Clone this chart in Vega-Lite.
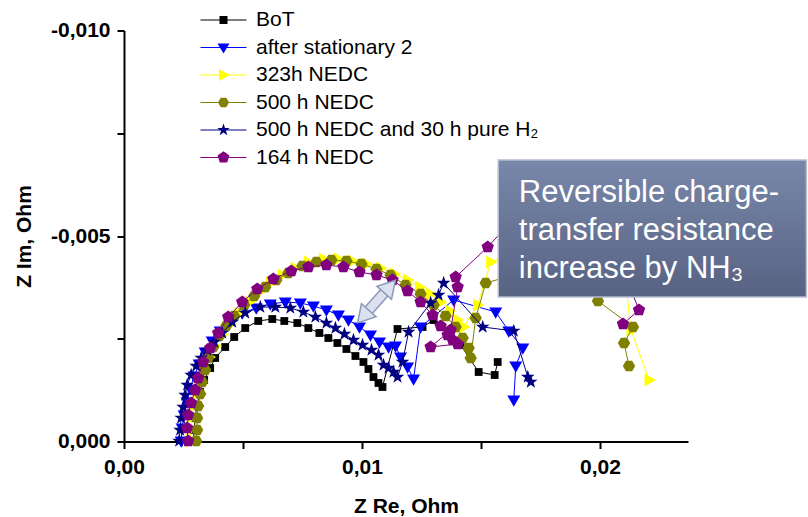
{
  "$schema": "https://vega.github.io/schema/vega-lite/v6.json",
  "width": 564,
  "height": 411,
  "autosize": {"type": "none"},
  "padding": {"left": 124, "top": 30.5, "right": 120, "bottom": 75.5},
  "background": "white",
  "config": {"view": {"stroke": null}, "font": "Liberation Sans", "legend": {"symbolOpacity": 1}},
  "datasets": {
    "eis": [
      {"s":"BoT","i":1,"x":0.002905,"y":-0.000012},{"s":"BoT","i":2,"x":0.002947,"y":-0.00028},{"s":"BoT","i":3,"x":0.002989,"y":-0.000572},{"s":"BoT","i":4,"x":0.003073,"y":-0.000888},{"s":"BoT","i":5,"x":0.0032,"y":-0.001204},{"s":"BoT","i":6,"x":0.003368,"y":-0.001496},{"s":"BoT","i":7,"x":0.003621,"y":-0.001788},{"s":"BoT","i":8,"x":0.003831,"y":-0.002032},{"s":"BoT","i":9,"x":0.004252,"y":-0.002299},{"s":"BoT","i":10,"x":0.004631,"y":-0.002543},{"s":"BoT","i":11,"x":0.005094,"y":-0.002761},{"s":"BoT","i":12,"x":0.005641,"y":-0.002932},{"s":"BoT","i":13,"x":0.006231,"y":-0.00298},{"s":"BoT","i":14,"x":0.006736,"y":-0.002932},{"s":"BoT","i":15,"x":0.007283,"y":-0.002883},{"s":"BoT","i":16,"x":0.007746,"y":-0.002761},{"s":"BoT","i":17,"x":0.00821,"y":-0.00264},{"s":"BoT","i":18,"x":0.008588,"y":-0.002518},{"s":"BoT","i":19,"x":0.008967,"y":-0.002397},{"s":"BoT","i":20,"x":0.009346,"y":-0.002251},{"s":"BoT","i":21,"x":0.009725,"y":-0.00208},{"s":"BoT","i":22,"x":0.010062,"y":-0.001934},{"s":"BoT","i":23,"x":0.010272,"y":-0.001764},{"s":"BoT","i":24,"x":0.010483,"y":-0.001569},{"s":"BoT","i":25,"x":0.010693,"y":-0.001423},{"s":"BoT","i":26,"x":0.010862,"y":-0.001326},{"s":"BoT","i":27,"x":0.011493,"y":-0.002737},{"s":"BoT","i":28,"x":0.012546,"y":-0.002786},{"s":"BoT","i":29,"x":0.013009,"y":-0.002956},{"s":"BoT","i":30,"x":0.014146,"y":-0.002348},{"s":"BoT","i":31,"x":0.014903,"y":-0.001691},{"s":"BoT","i":32,"x":0.015577,"y":-0.001618},{"s":"BoT","i":33,"x":0.015703,"y":-0.001934},

      {"s":"after stationary 2","i":1,"x":0.0024,"y":-0.000012},{"s":"after stationary 2","i":2,"x":0.002442,"y":-0.000328},{"s":"after stationary 2","i":3,"x":0.002526,"y":-0.000645},{"s":"after stationary 2","i":4,"x":0.002653,"y":-0.000961},{"s":"after stationary 2","i":5,"x":0.002779,"y":-0.001277},{"s":"after stationary 2","i":6,"x":0.002947,"y":-0.001594},{"s":"after stationary 2","i":7,"x":0.003158,"y":-0.001886},{"s":"after stationary 2","i":8,"x":0.00341,"y":-0.002178},{"s":"after stationary 2","i":9,"x":0.003705,"y":-0.002445},{"s":"after stationary 2","i":10,"x":0.004042,"y":-0.002689},{"s":"after stationary 2","i":11,"x":0.004463,"y":-0.002932},{"s":"after stationary 2","i":12,"x":0.004968,"y":-0.003127},{"s":"after stationary 2","i":13,"x":0.005558,"y":-0.003248},{"s":"after stationary 2","i":14,"x":0.006147,"y":-0.003345},{"s":"after stationary 2","i":15,"x":0.006779,"y":-0.003394},{"s":"after stationary 2","i":16,"x":0.00741,"y":-0.00337},{"s":"after stationary 2","i":17,"x":0.007958,"y":-0.003297},{"s":"after stationary 2","i":18,"x":0.008505,"y":-0.0032},{"s":"after stationary 2","i":19,"x":0.00901,"y":-0.003078},{"s":"after stationary 2","i":20,"x":0.009432,"y":-0.002956},{"s":"after stationary 2","i":21,"x":0.009895,"y":-0.002786},{"s":"after stationary 2","i":22,"x":0.010358,"y":-0.002591},{"s":"after stationary 2","i":23,"x":0.010737,"y":-0.002421},{"s":"after stationary 2","i":24,"x":0.011116,"y":-0.002299},{"s":"after stationary 2","i":25,"x":0.01141,"y":-0.002324},{"s":"after stationary 2","i":26,"x":0.011621,"y":-0.002056},{"s":"after stationary 2","i":27,"x":0.011916,"y":-0.001813},{"s":"after stationary 2","i":28,"x":0.012168,"y":-0.001521},{"s":"after stationary 2","i":29,"x":0.012463,"y":-0.002786},{"s":"after stationary 2","i":30,"x":0.013853,"y":-0.003443},{"s":"after stationary 2","i":31,"x":0.01562,"y":-0.003151},{"s":"after stationary 2","i":32,"x":0.016168,"y":-0.002689},{"s":"after stationary 2","i":33,"x":0.016758,"y":-0.002275},{"s":"after stationary 2","i":34,"x":0.016463,"y":-0.001837},{"s":"after stationary 2","i":35,"x":0.016379,"y":-0.00101},

      {"s":"323h NEDC","i":1,"x":0.002779,"y":-0.000012},{"s":"323h NEDC","i":2,"x":0.002821,"y":-0.000304},{"s":"323h NEDC","i":3,"x":0.002863,"y":-0.000596},{"s":"323h NEDC","i":4,"x":0.002947,"y":-0.000888},{"s":"323h NEDC","i":5,"x":0.003073,"y":-0.00118},{"s":"323h NEDC","i":6,"x":0.0032,"y":-0.001472},{"s":"323h NEDC","i":7,"x":0.003368,"y":-0.001764},{"s":"323h NEDC","i":8,"x":0.003579,"y":-0.002056},{"s":"323h NEDC","i":9,"x":0.003831,"y":-0.002324},{"s":"323h NEDC","i":10,"x":0.004126,"y":-0.002591},{"s":"323h NEDC","i":11,"x":0.004463,"y":-0.002859},{"s":"323h NEDC","i":12,"x":0.004842,"y":-0.003127},{"s":"323h NEDC","i":13,"x":0.005263,"y":-0.003394},{"s":"323h NEDC","i":14,"x":0.005684,"y":-0.003637},{"s":"323h NEDC","i":15,"x":0.006147,"y":-0.003856},{"s":"323h NEDC","i":16,"x":0.006652,"y":-0.004051},{"s":"323h NEDC","i":17,"x":0.0072,"y":-0.004221},{"s":"323h NEDC","i":18,"x":0.007747,"y":-0.004367},{"s":"323h NEDC","i":19,"x":0.008379,"y":-0.00444},{"s":"323h NEDC","i":20,"x":0.00901,"y":-0.00444},{"s":"323h NEDC","i":21,"x":0.0096,"y":-0.004392},{"s":"323h NEDC","i":22,"x":0.010189,"y":-0.004319},{"s":"323h NEDC","i":23,"x":0.010779,"y":-0.004221},{"s":"323h NEDC","i":24,"x":0.011368,"y":-0.004075},{"s":"323h NEDC","i":25,"x":0.011916,"y":-0.003929},{"s":"323h NEDC","i":26,"x":0.012421,"y":-0.003759},{"s":"323h NEDC","i":27,"x":0.012884,"y":-0.003589},{"s":"323h NEDC","i":28,"x":0.013305,"y":-0.003394},{"s":"323h NEDC","i":29,"x":0.013684,"y":-0.003175},{"s":"323h NEDC","i":30,"x":0.014021,"y":-0.002956},{"s":"323h NEDC","i":31,"x":0.014274,"y":-0.002786},{"s":"323h NEDC","i":32,"x":0.014863,"y":-0.003321},{"s":"323h NEDC","i":33,"x":0.01541,"y":-0.004367},{"s":"323h NEDC","i":34,"x":0.018358,"y":-0.005024},{"s":"323h NEDC","i":35,"x":0.021095,"y":-0.003808},{"s":"323h NEDC","i":36,"x":0.021305,"y":-0.002713},{"s":"323h NEDC","i":37,"x":0.022063,"y":-0.001496},

      {"s":"500 h NEDC","i":1,"x":0.003032,"y":-0.000012},{"s":"500 h NEDC","i":2,"x":0.003073,"y":-0.00028},{"s":"500 h NEDC","i":3,"x":0.003073,"y":-0.000572},{"s":"500 h NEDC","i":4,"x":0.003116,"y":-0.000864},{"s":"500 h NEDC","i":5,"x":0.0032,"y":-0.001156},{"s":"500 h NEDC","i":6,"x":0.003284,"y":-0.001448},{"s":"500 h NEDC","i":7,"x":0.00341,"y":-0.00174},{"s":"500 h NEDC","i":8,"x":0.003537,"y":-0.002032},{"s":"500 h NEDC","i":9,"x":0.003747,"y":-0.002299},{"s":"500 h NEDC","i":10,"x":0.004,"y":-0.002567},{"s":"500 h NEDC","i":11,"x":0.004295,"y":-0.00281},{"s":"500 h NEDC","i":12,"x":0.004631,"y":-0.003054},{"s":"500 h NEDC","i":13,"x":0.005052,"y":-0.003321},{"s":"500 h NEDC","i":14,"x":0.005473,"y":-0.00354},{"s":"500 h NEDC","i":15,"x":0.005937,"y":-0.003759},{"s":"500 h NEDC","i":16,"x":0.0064,"y":-0.003929},{"s":"500 h NEDC","i":17,"x":0.006905,"y":-0.0041},{"s":"500 h NEDC","i":18,"x":0.007495,"y":-0.00427},{"s":"500 h NEDC","i":19,"x":0.008084,"y":-0.004367},{"s":"500 h NEDC","i":20,"x":0.008716,"y":-0.004416},{"s":"500 h NEDC","i":21,"x":0.009347,"y":-0.004392},{"s":"500 h NEDC","i":22,"x":0.009979,"y":-0.004319},{"s":"500 h NEDC","i":23,"x":0.01061,"y":-0.004197},{"s":"500 h NEDC","i":24,"x":0.0112,"y":-0.004051},{"s":"500 h NEDC","i":25,"x":0.011832,"y":-0.003808},{"s":"500 h NEDC","i":26,"x":0.012463,"y":-0.003589},{"s":"500 h NEDC","i":27,"x":0.013011,"y":-0.003321},{"s":"500 h NEDC","i":28,"x":0.013516,"y":-0.003054},{"s":"500 h NEDC","i":29,"x":0.013937,"y":-0.002786},{"s":"500 h NEDC","i":30,"x":0.014232,"y":-0.002518},{"s":"500 h NEDC","i":31,"x":0.014484,"y":-0.002275},{"s":"500 h NEDC","i":32,"x":0.014568,"y":-0.002032},{"s":"500 h NEDC","i":33,"x":0.014779,"y":-0.003005},{"s":"500 h NEDC","i":34,"x":0.0152,"y":-0.003856},{"s":"500 h NEDC","i":35,"x":0.017095,"y":-0.004173},{"s":"500 h NEDC","i":36,"x":0.019411,"y":-0.003808},{"s":"500 h NEDC","i":37,"x":0.019916,"y":-0.003419},{"s":"500 h NEDC","i":38,"x":0.021389,"y":-0.002786},{"s":"500 h NEDC","i":39,"x":0.021011,"y":-0.002397},{"s":"500 h NEDC","i":40,"x":0.021221,"y":-0.001837},

      {"s":"500 h NEDC and 30 h pure H\u2082","i":1,"x":0.002316,"y":-0.000012},{"s":"500 h NEDC and 30 h pure H\u2082","i":2,"x":0.002358,"y":-0.00028},{"s":"500 h NEDC and 30 h pure H\u2082","i":3,"x":0.0024,"y":-0.000572},{"s":"500 h NEDC and 30 h pure H\u2082","i":4,"x":0.002484,"y":-0.000839},{"s":"500 h NEDC and 30 h pure H\u2082","i":5,"x":0.002568,"y":-0.001131},{"s":"500 h NEDC and 30 h pure H\u2082","i":6,"x":0.002653,"y":-0.001375},{"s":"500 h NEDC and 30 h pure H\u2082","i":7,"x":0.002821,"y":-0.001618},{"s":"500 h NEDC and 30 h pure H\u2082","i":8,"x":0.003032,"y":-0.001837},{"s":"500 h NEDC and 30 h pure H\u2082","i":9,"x":0.003242,"y":-0.002032},{"s":"500 h NEDC and 30 h pure H\u2082","i":10,"x":0.003495,"y":-0.002226},{"s":"500 h NEDC and 30 h pure H\u2082","i":11,"x":0.003789,"y":-0.002421},{"s":"500 h NEDC and 30 h pure H\u2082","i":12,"x":0.004126,"y":-0.00264},{"s":"500 h NEDC and 30 h pure H\u2082","i":13,"x":0.004547,"y":-0.002907},{"s":"500 h NEDC and 30 h pure H\u2082","i":14,"x":0.005094,"y":-0.003127},{"s":"500 h NEDC and 30 h pure H\u2082","i":15,"x":0.005726,"y":-0.003272},{"s":"500 h NEDC and 30 h pure H\u2082","i":16,"x":0.006358,"y":-0.003272},{"s":"500 h NEDC and 30 h pure H\u2082","i":17,"x":0.00699,"y":-0.003248},{"s":"500 h NEDC and 30 h pure H\u2082","i":18,"x":0.007537,"y":-0.003151},{"s":"500 h NEDC and 30 h pure H\u2082","i":19,"x":0.008042,"y":-0.003029},{"s":"500 h NEDC and 30 h pure H\u2082","i":20,"x":0.008505,"y":-0.002883},{"s":"500 h NEDC and 30 h pure H\u2082","i":21,"x":0.008884,"y":-0.002761},{"s":"500 h NEDC and 30 h pure H\u2082","i":22,"x":0.009263,"y":-0.002615},{"s":"500 h NEDC and 30 h pure H\u2082","i":23,"x":0.009642,"y":-0.002469},{"s":"500 h NEDC and 30 h pure H\u2082","i":24,"x":0.010021,"y":-0.002348},{"s":"500 h NEDC and 30 h pure H\u2082","i":25,"x":0.0104,"y":-0.002226},{"s":"500 h NEDC and 30 h pure H\u2082","i":26,"x":0.010695,"y":-0.002105},{"s":"500 h NEDC and 30 h pure H\u2082","i":27,"x":0.010905,"y":-0.001861},{"s":"500 h NEDC and 30 h pure H\u2082","i":28,"x":0.011116,"y":-0.001788},{"s":"500 h NEDC and 30 h pure H\u2082","i":29,"x":0.011326,"y":-0.001691},{"s":"500 h NEDC and 30 h pure H\u2082","i":30,"x":0.011495,"y":-0.001569},{"s":"500 h NEDC and 30 h pure H\u2082","i":31,"x":0.011705,"y":-0.001934},{"s":"500 h NEDC and 30 h pure H\u2082","i":32,"x":0.011958,"y":-0.002664},{"s":"500 h NEDC and 30 h pure H\u2082","i":33,"x":0.012884,"y":-0.00337},{"s":"500 h NEDC and 30 h pure H\u2082","i":34,"x":0.013221,"y":-0.003564},{"s":"500 h NEDC and 30 h pure H\u2082","i":35,"x":0.013432,"y":-0.003856},{"s":"500 h NEDC and 30 h pure H\u2082","i":36,"x":0.015074,"y":-0.002786},{"s":"500 h NEDC and 30 h pure H\u2082","i":37,"x":0.016379,"y":-0.002689},{"s":"500 h NEDC and 30 h pure H\u2082","i":38,"x":0.016968,"y":-0.001569},{"s":"500 h NEDC and 30 h pure H\u2082","i":39,"x":0.017095,"y":-0.001448},

      {"s":"164 h NEDC","i":1,"x":0.002694,"y":-0.000012},{"s":"164 h NEDC","i":2,"x":0.002653,"y":-0.000328},{"s":"164 h NEDC","i":3,"x":0.002694,"y":-0.000645},{"s":"164 h NEDC","i":4,"x":0.002821,"y":-0.000937},{"s":"164 h NEDC","i":5,"x":0.002989,"y":-0.001253},{"s":"164 h NEDC","i":6,"x":0.003116,"y":-0.001545},{"s":"164 h NEDC","i":7,"x":0.003326,"y":-0.001934},{"s":"164 h NEDC","i":8,"x":0.003621,"y":-0.002275},{"s":"164 h NEDC","i":9,"x":0.003957,"y":-0.00264},{"s":"164 h NEDC","i":10,"x":0.004379,"y":-0.003029},{"s":"164 h NEDC","i":11,"x":0.004968,"y":-0.003394},{"s":"164 h NEDC","i":12,"x":0.0056,"y":-0.00371},{"s":"164 h NEDC","i":13,"x":0.006274,"y":-0.003954},{"s":"164 h NEDC","i":14,"x":0.007032,"y":-0.004148},{"s":"164 h NEDC","i":15,"x":0.007747,"y":-0.004246},{"s":"164 h NEDC","i":16,"x":0.008505,"y":-0.004294},{"s":"164 h NEDC","i":17,"x":0.00922,"y":-0.004246},{"s":"164 h NEDC","i":18,"x":0.009895,"y":-0.004124},{"s":"164 h NEDC","i":19,"x":0.01061,"y":-0.004051},{"s":"164 h NEDC","i":20,"x":0.011284,"y":-0.003929},{"s":"164 h NEDC","i":21,"x":0.011916,"y":-0.003662},{"s":"164 h NEDC","i":22,"x":0.012463,"y":-0.003394},{"s":"164 h NEDC","i":23,"x":0.012968,"y":-0.003078},{"s":"164 h NEDC","i":24,"x":0.013305,"y":-0.00281},{"s":"164 h NEDC","i":25,"x":0.0136,"y":-0.002591},{"s":"164 h NEDC","i":26,"x":0.01381,"y":-0.002469},{"s":"164 h NEDC","i":27,"x":0.014021,"y":-0.002372},{"s":"164 h NEDC","i":28,"x":0.012884,"y":-0.002299},{"s":"164 h NEDC","i":29,"x":0.013726,"y":-0.002713},{"s":"164 h NEDC","i":30,"x":0.014021,"y":-0.003759},{"s":"164 h NEDC","i":31,"x":0.013937,"y":-0.004002},{"s":"164 h NEDC","i":32,"x":0.015284,"y":-0.004732},{"s":"164 h NEDC","i":33,"x":0.017095,"y":-0.005876},{"s":"164 h NEDC","i":34,"x":0.021221,"y":-0.003808},{"s":"164 h NEDC","i":35,"x":0.021642,"y":-0.0032},{"s":"164 h NEDC","i":36,"x":0.020968,"y":-0.002859}
    ],
    "arrow": [{"x": 0.01005, "y": -0.003041, "x2": 0.01117, "y2": -0.003771}],
    "box": [{"x": 0.015726, "x2": 0.028674, "y": -0.006849, "y2": -0.003516}],
    "note": [
      {"t": "Reversible charge-", "x": 0.01659, "y": -0.005827},
      {"t": "transfer resistance", "x": 0.01659, "y": -0.004903},
      {"t": "increase by NH\u2083", "x": 0.01659, "y": -0.003978}
    ]
  },
  "encoding": {
    "x": {
      "field": "x", "type": "quantitative",
      "scale": {"domain": [0, 0.0237], "nice": false, "zero": false},
      "axis": {
        "title": "Z Re, Ohm",
        "values": [0, 0.005, 0.01, 0.015, 0.02],
        "labelExpr": "datum.value == 0.005 || datum.value == 0.015 ? '' : replace(format(datum.value, '.2f'), '.', ',')",
        "grid": false, "domainColor": "#000", "domainWidth": 2, "tickColor": "#000", "tickWidth": 2, "tickSize": 7,
        "labelFont": "Liberation Sans", "labelFontWeight": "bold", "labelFontSize": 21, "labelColor": "#000", "labelPadding": 8,
        "labelFlush": false, "labelOverlap": false,
        "titleFont": "Liberation Sans", "titleFontWeight": "bold", "titleFontSize": 21, "titleColor": "#000", "titlePadding": 18
      }
    },
    "y": {
      "field": "y", "type": "quantitative",
      "scale": {"domain": [-0.01, 0], "reverse": true, "nice": false, "zero": false},
      "axis": {
        "title": "Z Im, Ohm",
        "values": [-0.01, -0.0075, -0.005, -0.0025, 0],
        "labelExpr": "datum.value == -0.0025 || datum.value == -0.0075 ? '' : replace(replace(format(datum.value, '.3f'), '.', ','), '\u2212', '-')",
        "grid": false, "domainColor": "#000", "domainWidth": 2, "tickColor": "#000", "tickWidth": 2, "tickSize": 7,
        "labelFont": "Liberation Sans", "labelFontWeight": "bold", "labelFontSize": 21, "labelColor": "#000", "labelPadding": 7,
        "labelFlush": false, "labelOverlap": false,
        "titleFont": "Liberation Sans", "titleFontWeight": "bold", "titleFontSize": 21, "titleColor": "#000", "titlePadding": 16
      }
    }
  },
  "layer": [
    {
      "data": {"name": "eis"},
      "mark": {"type": "point", "filled": true, "opacity": 0, "size": 100},
      "encoding": {
        "color": {"field": "s", "type": "nominal",
          "scale": {"domain": ["BoT", "after stationary 2", "323h NEDC", "500 h NEDC", "500 h NEDC and 30 h pure H\u2082", "164 h NEDC"],
                    "range": ["#000000", "#0000ff", "#ffff00", "#808000", "#000080", "#800080"]},
          "legend": {
            "title": null, "orient": "none", "legendX": 76, "legendY": -21, "direction": "vertical", "padding": 0,
            "symbolSize": 100, "symbolOffset": 13, "labelOffset": 22, "rowPadding": 5.5, "symbolStrokeWidth": 0, "symbolOpacity": 1,
            "labelFont": "Liberation Sans", "labelFontSize": 21, "labelColor": "#000", "labelLimit": 400
          }
        },
        "shape": {"field": "s", "type": "nominal",
          "scale": {"domain": ["BoT", "after stationary 2", "323h NEDC", "500 h NEDC", "500 h NEDC and 30 h pure H\u2082", "164 h NEDC"],
                    "range": [
                      "M-4.6,-0.12H4.6V0.12H-4.6ZM-0.8,-0.8H0.8V0.8H-0.8Z",
                      "M-4.6,-0.12H4.6V0.12H-4.6ZM-1.2,-0.8H1.2L0,1.2Z",
                      "M-4.6,-0.12H4.6V0.12H-4.6ZM-0.9,-1.2L1.3,0L-0.9,1.2Z",
                      "M-4.6,-0.12H4.6V0.12H-4.6ZM-1.1,0L-0.55,-0.95H0.55L1.1,0L0.55,0.95H-0.55Z",
                      "M-4.6,-0.12H4.6V0.12H-4.6ZM0,-1.3L0.306,-0.421L1.236,-0.402L0.495,0.161L0.764,1.052L0,0.52L-0.764,1.052L-0.495,0.161L-1.236,-0.402L-0.306,-0.421Z",
                      "M-4.6,-0.12H4.6V0.12H-4.6ZM0,-1.25L1.189,-0.386L0.735,1.011L-0.735,1.011L-1.189,-0.386Z"]},
          "legend": {
            "title": null, "orient": "none", "legendX": 76, "legendY": -21, "direction": "vertical", "padding": 0,
            "symbolSize": 100, "symbolOffset": 13, "labelOffset": 22, "rowPadding": 5.5, "symbolStrokeWidth": 0, "symbolOpacity": 1,
            "labelFont": "Liberation Sans", "labelFontSize": 21, "labelColor": "#000", "labelLimit": 400
          }
        }
      }
    },
    {
      "data": {"name": "eis"},
      "transform": [{"filter": "datum.s === 'BoT'"}],
      "mark": {"type": "line", "color": "#000000", "strokeWidth": 1, "clip": false,
               "point": {"filled": true, "shape": "M-0.6,-0.6H0.6V0.6H-0.6Z", "size": 169, "color": "#000000", "strokeWidth": 0, "opacity": 1}},
      "encoding": {"order": {"field": "i", "type": "quantitative"}}
    },
    {
      "data": {"name": "eis"},
      "transform": [{"filter": "datum.s === 'after stationary 2'"}],
      "mark": {"type": "line", "color": "#0000ff", "strokeWidth": 1, "clip": false,
               "point": {"filled": true, "shape": "M-1,-0.7H1L0,1.05Z", "size": 169, "color": "#0000ff", "strokeWidth": 0, "opacity": 1}},
      "encoding": {"order": {"field": "i", "type": "quantitative"}}
    },
    {
      "data": {"name": "eis"},
      "transform": [{"filter": "datum.s === '323h NEDC'"}],
      "mark": {"type": "line", "color": "#ffff00", "strokeWidth": 1, "clip": false,
               "point": {"filled": true, "shape": "M-0.7,-1V1L1.05,0Z", "size": 169, "color": "#ffff00", "strokeWidth": 0, "opacity": 1}},
      "encoding": {"order": {"field": "i", "type": "quantitative"}}
    },
    {
      "data": {"name": "eis"},
      "transform": [{"filter": "datum.s === '500 h NEDC'"}],
      "mark": {"type": "line", "color": "#808000", "strokeWidth": 1, "clip": false,
               "point": {"filled": true, "shape": "M-0.95,0L-0.475,-0.823H0.475L0.95,0L0.475,0.823H-0.475Z", "size": 169, "color": "#808000", "strokeWidth": 0, "opacity": 1}},
      "encoding": {"order": {"field": "i", "type": "quantitative"}}
    },
    {
      "data": {"name": "eis"},
      "transform": [{"filter": "datum.s === '500 h NEDC and 30 h pure H\u2082'"}],
      "mark": {"type": "line", "color": "#000080", "strokeWidth": 1, "clip": false,
               "point": {"filled": true, "shape": "M0,-1.1L0.259,-0.356L1.046,-0.34L0.419,0.136L0.646,0.89L0,0.44L-0.646,0.89L-0.419,0.136L-1.046,-0.34L-0.259,-0.356Z", "size": 169, "color": "#000080", "strokeWidth": 0, "opacity": 1}},
      "encoding": {"order": {"field": "i", "type": "quantitative"}}
    },
    {
      "data": {"name": "eis"},
      "transform": [{"filter": "datum.s === '164 h NEDC'"}],
      "mark": {"type": "line", "color": "#800080", "strokeWidth": 1, "clip": false,
               "point": {"filled": true, "shape": "M0,-1L0.951,-0.309L0.588,0.809L-0.588,0.809L-0.951,-0.309Z", "size": 169, "color": "#800080", "strokeWidth": 0, "opacity": 1}},
      "encoding": {"order": {"field": "i", "type": "quantitative"}}
    },
    {
      "data": {"name": "arrow"},
      "mark": {"type": "rule", "strokeWidth": 11, "color": "#8c9ab6", "strokeCap": "butt"},
      "encoding": {"x2": {"field": "x2"}, "y2": {"field": "y2"}}
    },
    {
      "data": {"name": "arrow"},
      "mark": {"type": "rule", "strokeWidth": 8, "color": "#dbe1ee", "strokeCap": "butt"},
      "encoding": {"x2": {"field": "x2"}, "y2": {"field": "y2"}}
    },
    {
      "data": {"values": [{"x": 0.01117, "y": -0.003771}]},
      "mark": {"type": "point", "shape": "triangle-up", "size": 380, "angle": 41.5, "filled": true, "fill": "#dbe1ee", "stroke": "#8c9ab6", "strokeWidth": 1.5, "opacity": 1}
    },
    {
      "data": {"values": [{"x": 0.01005, "y": -0.003041}]},
      "mark": {"type": "point", "shape": "triangle-up", "size": 380, "angle": 221.5, "filled": true, "fill": "#dbe1ee", "stroke": "#8c9ab6", "strokeWidth": 1.5, "opacity": 1}
    },
    {
      "data": {"name": "box"},
      "mark": {"type": "rect", "stroke": "#b4bccd", "strokeWidth": 1.5,
        "fill": {"gradient": "linear", "x1": 0, "y1": 0, "x2": 0, "y2": 1,
                 "stops": [{"offset": 0, "color": "#7888aa"}, {"offset": 1, "color": "#586283"}]}},
      "encoding": {"x2": {"field": "x2"}, "y2": {"field": "y2"}}
    },
    {
      "data": {"name": "note"},
      "mark": {"type": "text", "align": "left", "baseline": "alphabetic", "fontSize": 31, "font": "Liberation Sans", "color": "#ffffff"},
      "encoding": {"text": {"field": "t"}}
    }
  ]
}
